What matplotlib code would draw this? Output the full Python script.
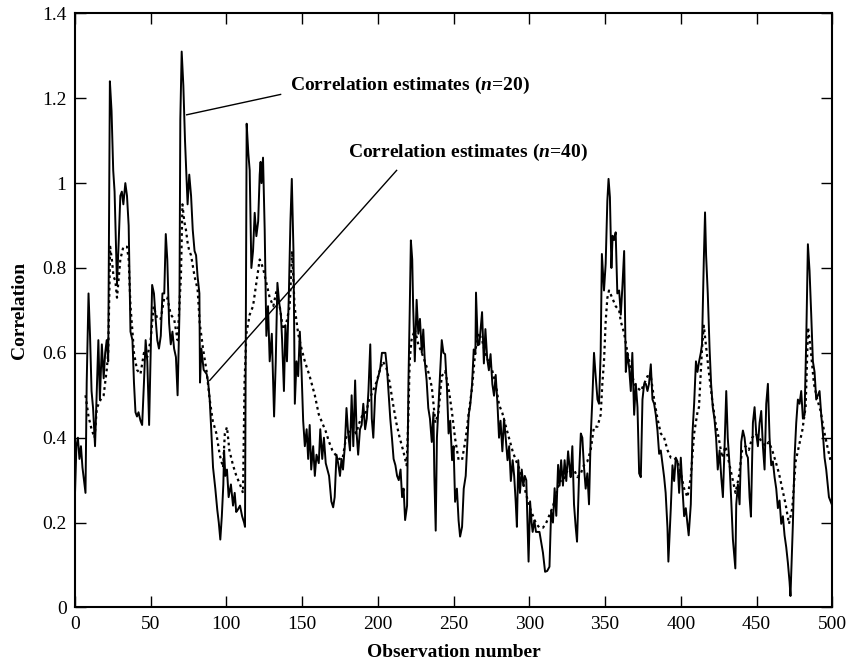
# correlation estimates for two window lengths

import matplotlib
matplotlib.use("Agg")
import matplotlib.pyplot as plt

plt.rcParams['font.family'] = ['Liberation Serif', 'DejaVu Serif']
plt.rcParams['mathtext.fontset'] = 'custom'
plt.rcParams['mathtext.it'] = 'Liberation Serif:italic:bold'
plt.rcParams['mathtext.rm'] = 'Liberation Serif:bold'

# solid line, n = 20
obs_n20 = [0, 1, 2, 3, 4, 5, 6, 7, 7.8, 9, 10, 11, 12, 13.3, 15.5, 16.5, 17.8, 19, 20, 21,
           22, 23.1, 24.2, 25.3, 26.2, 27.8, 29, 30, 31, 32, 33.3, 34.4, 35.5, 36.7, 38, 39,
           40, 41, 42, 43.3, 44.4, 45.6, 46.7, 47.8, 49, 50, 51, 52.2, 53.3, 54.4, 55.5, 56.7,
           57.8, 59, 60, 61, 62.2, 63.3, 64.4, 65.5, 66.7, 67.8, 69, 69.6, 70.5, 71.6, 72.7,
           74.4, 75.5, 76.7, 77.8, 79, 80, 81, 82.2, 82.6, 83.5, 85, 87, 88, 89, 90, 91.2, 92.7,
           94, 95, 96, 97, 98, 98.5, 99.3, 100.4, 101.5, 103, 104.4, 105.5, 106.5, 107.5, 109,
           110.4, 111.7, 112.3, 112.8, 113.4, 114.5, 115.4, 116.5, 117.6, 118.7, 119.8, 121,
           122, 122.6, 123.2, 124.2, 125.3, 126.4, 127.5, 128.6, 130, 131.5, 132.6, 133.7,
           134.8, 136, 136.8, 138, 139, 140, 141.2, 142.3, 143.2, 144.3, 145.2, 146.3, 147.4,
           148.5, 149.6, 150.7, 151.8, 153, 154, 155, 156, 157.3, 158.4, 159.5, 161, 162,
           163.3, 164.4, 165.6, 167.8, 169.3, 170.5, 171.5, 172.7, 173.8, 175, 176, 177, 178.2,
           179.3, 180.4, 181.6, 182.7, 183.8, 185, 186, 187, 188.2, 189.3, 190.4, 191.6, 192.7,
           193.8, 195, 196, 197, 198.2, 199.3, 200.4, 201.6, 202.7, 203.8, 205, 206, 207, 208.2,
           209.3, 210.4, 211.6, 212.7, 213.8, 215, 216, 217, 218, 219.3, 220.2, 221, 221.8,
           222.7, 223.3, 224.4, 225.6, 226.7, 227.8, 229, 230, 231, 232.2, 233.3, 234.4, 235.6,
           236.7, 237.3, 238.2, 239, 240, 241, 242.2, 243.3, 244.4, 245.6, 246.7, 247.8, 249,
           250, 251, 252.2, 253.3, 254.3, 255.6, 256.7, 258, 259, 260, 261, 262.2, 263.3, 264.4,
           264.8, 266, 267, 268.8, 269.5, 270, 271, 272.2, 273.3, 274.4, 275.6, 276.7, 277.8,
           279, 280, 281, 282.2, 283.3, 284.4, 285.6, 286.7, 287.8, 289, 290, 291, 291.8, 292.7,
           293.8, 295, 296, 297, 298, 299.5, 300.5, 301.5, 302.2, 303.3, 304.4, 306.7, 309,
           310.4, 311.8, 313.3, 314.4, 315.6, 316.7, 317.8, 319, 320, 321, 322.2, 323.3, 324.4,
           325.6, 326.7, 327.3, 328.4, 329.5, 330.6, 331.5, 332.8, 334, 335, 336, 337.2, 338.3,
           339.4, 340.5, 341.6, 342.7, 343.8, 345, 346, 347.1, 347.9, 349.3, 350.4, 351.5,
           352.3, 353.2, 354.2, 355, 356, 357, 358.1, 359.3, 360.4, 361.5, 362.6, 363.7, 364.8,
           365.9, 367, 368, 369.2, 370.3, 371.4, 372.5, 373.6, 374.7, 375.8, 376.9, 378, 379,
           380.2, 381.3, 382.4, 383.5, 384.6, 385.7, 386.8, 388, 389, 390, 391.2, 391.8, 393.4,
           394.5, 395.6, 396.7, 397.8, 398.9, 400, 401.1, 402.2, 403.3, 404.4, 405.2, 406.6,
           407.7, 408.8, 410, 411, 412.1, 413.2, 414, 415.2, 416, 416.7, 417.8, 419, 420, 421.1,
           422.2, 423.3, 424.4, 425.6, 426.7, 427.8, 428.9, 430, 431, 432.2, 433.3, 434.4, 436,
           436.6, 437.7, 438.8, 439.9, 441, 442.1, 443.2, 444.3, 445.4, 446.3, 447.6, 448.7,
           449.8, 450.9, 452, 453.1, 454.2, 455.3, 456.4, 457.5, 458.6, 459.7, 460.8, 461.9,
           463, 464.1, 465.2, 466.3, 467.4, 468.5, 469.6, 470.7, 471.8, 472.4, 474, 475.1,
           476.2, 477.3, 478.4, 479.5, 480.6, 481.7, 482.8, 483.9, 485, 486.1, 487.2, 488.3,
           489.4, 490.5, 491.6, 492.7, 493.8, 494.9, 496, 497.8, 500]
corr_n20 = [0.26, 0.38, 0.40, 0.35, 0.38, 0.33, 0.30, 0.27, 0.53, 0.74, 0.64, 0.51, 0.47, 0.38,
            0.63, 0.49, 0.62, 0.54, 0.60, 0.63, 0.58, 1.24, 1.17, 1.03, 0.98, 0.76, 0.87, 0.97,
            0.98, 0.95, 1.00, 0.97, 0.90, 0.65, 0.63, 0.53, 0.46, 0.45, 0.46, 0.44, 0.43, 0.53,
            0.63, 0.58, 0.43, 0.59, 0.76, 0.74, 0.68, 0.63, 0.61, 0.64, 0.74, 0.74, 0.88, 0.82,
            0.67, 0.62, 0.65, 0.61, 0.59, 0.50, 0.69, 1.15, 1.31, 1.23, 1.10, 0.95, 1.02, 0.97,
            0.89, 0.84, 0.83, 0.78, 0.74, 0.53, 0.61, 0.56, 0.55, 0.53, 0.49, 0.42, 0.33, 0.28,
            0.23, 0.20, 0.16, 0.215, 0.29, 0.37, 0.31, 0.325, 0.26, 0.29, 0.24, 0.27, 0.225,
            0.23, 0.24, 0.215, 0.20, 0.19, 0.63, 1.14, 1.07, 1.03, 0.80, 0.84, 0.93, 0.875,
            0.91, 1.02, 1.05, 1.00, 1.06, 0.89, 0.64, 0.71, 0.58, 0.645, 0.45, 0.58, 0.765,
            0.72, 0.69, 0.63, 0.51, 0.665, 0.58, 0.73, 0.91, 1.01, 0.84, 0.48, 0.58, 0.545,
            0.65, 0.56, 0.44, 0.38, 0.42, 0.35, 0.43, 0.325, 0.38, 0.31, 0.36, 0.34, 0.42, 0.35,
            0.40, 0.34, 0.31, 0.25, 0.236, 0.26, 0.36, 0.34, 0.31, 0.35, 0.325, 0.38, 0.47,
            0.41, 0.37, 0.50, 0.38, 0.535, 0.41, 0.36, 0.42, 0.43, 0.48, 0.42, 0.445, 0.51,
            0.62, 0.445, 0.40, 0.50, 0.53, 0.545, 0.565, 0.60, 0.60, 0.60, 0.565, 0.51, 0.445,
            0.40, 0.35, 0.335, 0.31, 0.30, 0.325, 0.26, 0.28, 0.206, 0.24, 0.53, 0.69, 0.865,
            0.82, 0.71, 0.58, 0.725, 0.645, 0.68, 0.60, 0.655, 0.58, 0.535, 0.47, 0.445, 0.39,
            0.46, 0.31, 0.181, 0.40, 0.47, 0.545, 0.63, 0.60, 0.597, 0.52, 0.41, 0.44, 0.347,
            0.38, 0.249, 0.28, 0.205, 0.167, 0.19, 0.28, 0.31, 0.38, 0.455, 0.477, 0.526, 0.608,
            0.597, 0.742, 0.618, 0.62, 0.696, 0.627, 0.575, 0.656, 0.586, 0.559, 0.597, 0.526,
            0.499, 0.548, 0.477, 0.40, 0.44, 0.368, 0.445, 0.40, 0.347, 0.38, 0.298, 0.347,
            0.31, 0.249, 0.19, 0.347, 0.27, 0.325, 0.287, 0.31, 0.30, 0.108, 0.25, 0.20, 0.178,
            0.205, 0.178, 0.178, 0.129, 0.084, 0.086, 0.096, 0.227, 0.20, 0.281, 0.216, 0.336,
            0.287, 0.347, 0.287, 0.347, 0.298, 0.368, 0.325, 0.307, 0.38, 0.243, 0.19, 0.155,
            0.307, 0.41, 0.40, 0.335, 0.28, 0.316, 0.243, 0.40, 0.49, 0.60, 0.545, 0.49, 0.48,
            0.60, 0.833, 0.747, 0.81, 0.958, 1.01, 0.967, 0.80, 0.876, 0.866, 0.884, 0.74,
            0.747, 0.69, 0.76, 0.84, 0.555, 0.60, 0.565, 0.51, 0.60, 0.454, 0.527, 0.472, 0.316,
            0.307, 0.49, 0.527, 0.527, 0.51, 0.527, 0.573, 0.49, 0.48, 0.454, 0.417, 0.362,
            0.37, 0.335, 0.307, 0.27, 0.188, 0.108, 0.234, 0.335, 0.298, 0.353, 0.344, 0.27,
            0.353, 0.28, 0.215, 0.234, 0.197, 0.17, 0.243, 0.41, 0.48, 0.58, 0.555, 0.58, 0.60,
            0.62, 0.82, 0.931, 0.83, 0.74, 0.61, 0.527, 0.472, 0.445, 0.40, 0.325, 0.37, 0.307,
            0.26, 0.38, 0.51, 0.40, 0.335, 0.252, 0.16, 0.092, 0.243, 0.29, 0.243, 0.39, 0.417,
            0.40, 0.362, 0.353, 0.26, 0.214, 0.435, 0.472, 0.41, 0.38, 0.435, 0.463, 0.38,
            0.325, 0.48, 0.527, 0.40, 0.335, 0.344, 0.307, 0.28, 0.234, 0.252, 0.197, 0.215,
            0.17, 0.142, 0.105, 0.06, 0.027, 0.197, 0.353, 0.435, 0.49, 0.48, 0.51, 0.445,
            0.454, 0.628, 0.856, 0.793, 0.69, 0.58, 0.555, 0.49, 0.50, 0.51, 0.454, 0.41, 0.353,
            0.325, 0.26, 0.24]

# dotted line, n = 40
obs_n40 = [7, 9, 11, 13, 14.5, 17, 19, 21, 22, 23.3, 24.4, 25.5, 26.7, 27.8, 29, 30, 32, 34.4,
           35.5, 36.7, 38, 39, 41, 43.3, 45.6, 47.8, 50, 52, 54.4, 56.7, 59, 61, 63.3, 65.5,
           67.8, 70, 71, 72.2, 73.3, 74.4, 75.5, 76.7, 79, 81, 82.4, 84.6, 87, 89, 91, 93.4,
           95.6, 97.8, 99, 100.4, 102, 104.4, 106.6, 109, 111, 112, 113.2, 115.4, 117.6, 119.8,
           122, 124.2, 126.4, 128.6, 131, 133, 135.2, 137.4, 139.6, 141.8, 143.4, 145, 147.4,
           149.6, 151.8, 155, 158.4, 161, 163.3, 165.6, 167.8, 170, 172, 174.4, 176.7, 179,
           181, 183.3, 185.6, 187.8, 190, 192.2, 194.4, 196.7, 199, 201, 203.3, 205.6, 207.8,
           210, 212.2, 214.4, 216.7, 219, 220.2, 221, 222.2, 224.4, 226.7, 229, 231, 233.3,
           235.6, 238, 240, 242.2, 244.4, 246.7, 249, 251, 253.3, 255.6, 258, 260, 262.2, 264.4,
           266.7, 269, 271, 273.3, 275.6, 277.8, 280, 282.2, 284.4, 286.7, 289, 291, 293.3,
           295.6, 297.8, 300, 302.2, 304.4, 306.7, 309, 311, 313.3, 315.6, 317.8, 320, 322.2,
           324.4, 326.7, 329.5, 331.7, 334, 336, 338.3, 340.5, 342.7, 345, 347.1, 348.2, 349.3,
           350.4, 351.5, 352.6, 354.8, 357, 359.3, 360.4, 362.6, 364.8, 367, 369.2, 371.4,
           373.6, 375.8, 378, 380.2, 382.4, 384.6, 386.8, 389, 391.2, 393.4, 395.6, 397.8, 400,
           402.2, 404.4, 406.6, 408.8, 411, 412, 414, 415.2, 416.3, 418.5, 420.7, 422.9, 425,
           427.3, 429.5, 431.7, 433.9, 436.1, 438.3, 440.5, 442.7, 444.9, 447.1, 449.3, 451.5,
           453.7, 455.9, 458.1, 460.3, 462.6, 464.8, 467, 469.2, 471.4, 473.6, 475.8, 478,
           480.2, 482.4, 484, 485.7, 487.9, 490.1, 492.3, 494.5, 496.7, 499]
corr_n40 = [0.50, 0.45, 0.42, 0.40, 0.47, 0.49, 0.50, 0.56, 0.60, 0.85, 0.82, 0.78, 0.77, 0.73,
            0.78, 0.82, 0.85, 0.85, 0.82, 0.71, 0.65, 0.60, 0.56, 0.55, 0.60, 0.59, 0.63, 0.71,
            0.68, 0.68, 0.73, 0.73, 0.69, 0.68, 0.63, 0.78, 0.95, 0.91, 0.89, 0.86, 0.84, 0.83,
            0.78, 0.75, 0.67, 0.61, 0.555, 0.49, 0.44, 0.41, 0.36, 0.33, 0.41, 0.425, 0.37,
            0.335, 0.31, 0.29, 0.27, 0.53, 0.645, 0.69, 0.71, 0.765, 0.82, 0.80, 0.765, 0.73,
            0.71, 0.745, 0.71, 0.655, 0.67, 0.71, 0.84, 0.71, 0.645, 0.61, 0.58, 0.545, 0.50,
            0.455, 0.435, 0.415, 0.39, 0.37, 0.36, 0.35, 0.35, 0.40, 0.415, 0.425, 0.41, 0.435,
            0.455, 0.46, 0.49, 0.51, 0.53, 0.555, 0.58, 0.565, 0.53, 0.48, 0.435, 0.40, 0.37,
            0.335, 0.455, 0.58, 0.63, 0.655, 0.62, 0.60, 0.58, 0.555, 0.52, 0.435, 0.46, 0.545,
            0.557, 0.517, 0.458, 0.398, 0.348, 0.348, 0.398, 0.458, 0.517, 0.607, 0.647, 0.627,
            0.597, 0.577, 0.557, 0.527, 0.478, 0.458, 0.428, 0.398, 0.368, 0.348, 0.328, 0.298,
            0.268, 0.238, 0.218, 0.198, 0.188, 0.188, 0.198, 0.218, 0.238, 0.268, 0.298, 0.298,
            0.318, 0.328, 0.325, 0.307, 0.316, 0.335, 0.344, 0.371, 0.426, 0.426, 0.454, 0.527,
            0.58, 0.674, 0.729, 0.747, 0.729, 0.71, 0.70, 0.674, 0.646, 0.60, 0.564, 0.527,
            0.518, 0.51, 0.527, 0.545, 0.545, 0.49, 0.445, 0.41, 0.40, 0.371, 0.353, 0.353,
            0.344, 0.316, 0.28, 0.26, 0.307, 0.41, 0.46, 0.472, 0.61, 0.664, 0.628, 0.555, 0.49,
            0.435, 0.40, 0.353, 0.38, 0.344, 0.307, 0.27, 0.307, 0.371, 0.38, 0.371, 0.40, 0.41,
            0.40, 0.39, 0.38, 0.39, 0.371, 0.344, 0.316, 0.28, 0.243, 0.197, 0.234, 0.344, 0.38,
            0.417, 0.472, 0.66, 0.61, 0.527, 0.49, 0.463, 0.417, 0.38, 0.344]

x_ticks = [0, 50, 100, 150, 200, 250, 300, 350, 400, 450, 500]
y_ticks = [0, 0.2, 0.4, 0.6, 0.8, 1.0, 1.2, 1.4]
y_tick_labels = ["0", "0.2", "0.4", "0.6", "0.8", "1", "1.2", "1.4"]

fig = plt.figure(figsize=(8.51, 6.69), dpi=100)
ax = fig.add_axes([0.088, 0.092, 0.890, 0.888])

ax.plot(obs_n20, corr_n20, color='black', lw=1.4)
ax.plot(obs_n40, corr_n40, color='black', lw=1.6, ls=(0, (1.2, 1.6)))

ax.set_xlim(0, 500)
ax.set_ylim(0, 1.4)
ax.set_xticks(x_ticks)
ax.set_yticks(y_ticks)
ax.set_yticklabels(y_tick_labels)
ax.tick_params(direction='in', length=8, width=1, top=True, right=True,
               labelsize=14, pad=6)
for s in ax.spines.values():
    s.set_linewidth(1.5)

ax.set_xlabel("Observation number", fontsize=14, fontweight='bold', labelpad=8)
ax.set_ylabel("Correlation", fontsize=14, fontweight='bold', labelpad=10)

# label lines
ax.plot([73.8, 135.8], [1.161, 1.209], color='black', lw=1)
ax.text(142, 1.231, r"Correlation estimates ($n$=20)", fontsize=14,
        fontweight='bold', va='center', ha='left')
ax.plot([89, 212.4], [0.535, 1.03], color='black', lw=1)
ax.text(180.4, 1.073, r"Correlation estimates ($n$=40)", fontsize=14,
        fontweight='bold', va='center', ha='left')

plt.savefig("out.png", dpi=100)
